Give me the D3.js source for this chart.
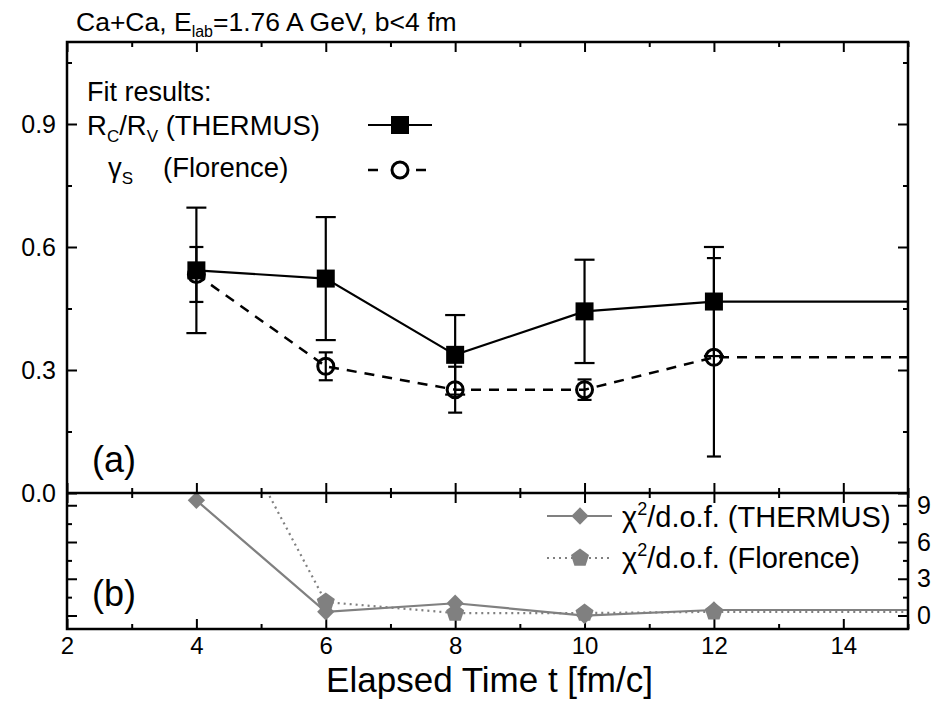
<!DOCTYPE html>
<html>
<head>
<meta charset="utf-8">
<script src="https://cdn.jsdelivr.net/npm/d3@7"></script>
<style>
  html, body { margin: 0; padding: 0; background: #fff; }
  svg { display: block; font-family: "Liberation Sans", Arial, sans-serif; }
</style>
</head>
<body>
<svg id="chart" width="951" height="701"></svg>
<script>
// Elapsed times of the fits
const times = [4, 6, 8, 10, 12];

// Panel (a): fit parameters
const rcRvThermus = [0.543, 0.523, 0.337, 0.443, 0.467];
const rcRvThermusErr = [0.153, 0.150, 0.097, 0.126, 0.133];
const gammaSFlorence = [0.533, 0.309, 0.252, 0.252, 0.331];
const gammaSFlorenceErr = [0.067, 0.034, 0.056, 0.025, 0.242];

// Panel (b): fit quality
const chi2Thermus = [9.4, 0.3, 1.0, 0.0, 0.45];
const chi2Florence = [21.0, 1.1, 0.2, 0.2, 0.3];

// Axis ticks
const xMajorTicks = [2, 4, 6, 8, 10, 12, 14];
const xMinorTicks = [3, 5, 7, 9, 11, 13, 15];
const yMajorTicksA = [0.0, 0.3, 0.6, 0.9];
const yMinorTicksA = [0.15, 0.45, 0.75, 1.05];
const yMajorTicksB = [0, 3, 6, 9];
const yMinorTicksB = [1.5, 4.5, 7.5];

const svg = d3.select("#chart");

const left = 67, right = 908, topA = 42, midY = 493, botB = 629;
const x = d3.scaleLinear().domain([2, 15]).range([left, right]);
const yA = d3.scaleLinear().domain([0, 1.1]).range([midY, topA]);
const yB = d3.scaleLinear().domain([-1.1, 10]).range([botB, midY]);

const GRAY = "#808080";
const MAJ = 10, MIN = 5;

// Clip regions for the two panels
const defs = svg.append("defs");
defs.append("clipPath").attr("id", "clipA").append("rect")
  .attr("x", left).attr("y", topA).attr("width", right - left).attr("height", midY - topA);
defs.append("clipPath").attr("id", "clipB").append("rect")
  .attr("x", left).attr("y", midY).attr("width", right - left).attr("height", botB - midY);

// ---- axes helper: draws ticks only (inward), optional labels
function ticksOnly(axisGen, translate, values, size, labels) {
  const g = svg.append("g").attr("transform", translate)
    .call(axisGen.tickValues(values).tickSize(size).tickSizeOuter(0));
  g.select(".domain").remove();
  g.selectAll(".tick line").attr("stroke", "#000").attr("stroke-width", 2);
  if (!labels) g.selectAll(".tick text").remove();
  return g;
}

// Top edge of panel (a)
ticksOnly(d3.axisBottom(x), `translate(0,${topA})`, xMajorTicks, MAJ, false);
ticksOnly(d3.axisBottom(x), `translate(0,${topA})`, xMinorTicks, MIN, false);
// Shared middle edge: ticks up into (a) and down into (b)
ticksOnly(d3.axisTop(x), `translate(0,${midY})`, xMajorTicks, MAJ, false);
ticksOnly(d3.axisTop(x), `translate(0,${midY})`, xMinorTicks, MIN, false);
ticksOnly(d3.axisBottom(x), `translate(0,${midY})`, xMajorTicks, MAJ, false);
ticksOnly(d3.axisBottom(x), `translate(0,${midY})`, xMinorTicks, MIN, false);
// Bottom edge of panel (b) with labels
const xLab = svg.append("g").attr("transform", `translate(0,${botB})`)
  .call(d3.axisBottom(x).tickValues(xMajorTicks).tickSize(0).tickPadding(8));
xLab.select(".domain").remove();
xLab.selectAll(".tick text").attr("font-size", 24).attr("fill", "#000")
  .attr("font-family", "Liberation Sans, Arial, sans-serif");
ticksOnly(d3.axisTop(x), `translate(0,${botB})`, xMajorTicks, MAJ, false);
ticksOnly(d3.axisTop(x), `translate(0,${botB})`, xMinorTicks, MIN, false);

// Panel (a) y axes
const yLabA = svg.append("g").attr("transform", `translate(${left},0)`)
  .call(d3.axisLeft(yA).tickValues(yMajorTicksA).tickSize(0).tickPadding(11).tickFormat(d3.format(".1f")));
yLabA.select(".domain").remove();
yLabA.selectAll(".tick text").attr("font-size", 25).attr("fill", "#000")
  .attr("font-family", "Liberation Sans, Arial, sans-serif");
ticksOnly(d3.axisRight(yA), `translate(${left},0)`, yMajorTicksA, MAJ, false);
ticksOnly(d3.axisRight(yA), `translate(${left},0)`, yMinorTicksA, MIN, false);
ticksOnly(d3.axisLeft(yA), `translate(${right},0)`, yMajorTicksA, MAJ, false);
ticksOnly(d3.axisLeft(yA), `translate(${right},0)`, yMinorTicksA, MIN, false);

// Panel (b) y axes (labels on the right)
ticksOnly(d3.axisRight(yB), `translate(${left},0)`, yMajorTicksB, MAJ, false);
ticksOnly(d3.axisRight(yB), `translate(${left},0)`, yMinorTicksB, MIN, false);
ticksOnly(d3.axisLeft(yB), `translate(${right},0)`, yMajorTicksB, MAJ, false);
ticksOnly(d3.axisLeft(yB), `translate(${right},0)`, yMinorTicksB, MIN, false);
const yLabB = svg.append("g").attr("transform", `translate(${right},0)`)
  .call(d3.axisRight(yB).tickValues(yMajorTicksB).tickSize(0).tickPadding(9));
yLabB.select(".domain").remove();
yLabB.selectAll(".tick text").attr("font-size", 25).attr("fill", "#000")
  .attr("font-family", "Liberation Sans, Arial, sans-serif");

// ---- Panel (a) data
const gA = svg.append("g").attr("clip-path", "url(#clipA)");
const lineA = d3.line().x(d => x(d[0])).y(d => yA(d[1]));
const xEnd = x.domain()[1];

// series points, continued flat to the right edge of the frame
function series(vals) {
  const pts = times.map((t, i) => [t, vals[i]]);
  pts.push([xEnd, vals[vals.length - 1]]);
  return pts;
}

gA.append("path").datum(series(rcRvThermus))
  .attr("d", lineA).attr("fill", "none").attr("stroke", "#000").attr("stroke-width", 2.2);
gA.append("path").datum(series(gammaSFlorence))
  .attr("d", lineA).attr("fill", "none").attr("stroke", "#000").attr("stroke-width", 2.5)
  .attr("stroke-dasharray", "10,8");

function errorBars(g, vals, errs, capW) {
  times.forEach((t, i) => {
    const cx = x(t), y1 = yA(vals[i] + errs[i]), y0 = yA(vals[i] - errs[i]);
    g.append("line").attr("x1", cx).attr("x2", cx).attr("y1", y1).attr("y2", y0)
      .attr("stroke", "#000").attr("stroke-width", 2.2);
    [y1, y0].forEach(yy => g.append("line")
      .attr("x1", cx - capW / 2).attr("x2", cx + capW / 2).attr("y1", yy).attr("y2", yy)
      .attr("stroke", "#000").attr("stroke-width", 2.2));
  });
}
errorBars(gA, rcRvThermus, rcRvThermusErr, 20);
errorBars(gA, gammaSFlorence, gammaSFlorenceErr, 14);

gA.selectAll("rect.sq").data(times).join("rect")
  .attr("x", (d) => x(d) - 9).attr("y", (d, i) => yA(rcRvThermus[i]) - 9)
  .attr("width", 18).attr("height", 18).attr("fill", "#000");
gA.selectAll("circle.ci").data(times).join("circle")
  .attr("cx", d => x(d)).attr("cy", (d, i) => yA(gammaSFlorence[i]))
  .attr("r", 8).attr("fill", "none").attr("stroke", "#000").attr("stroke-width", 3);

// ---- Panel (b) data
const gB = svg.append("g").attr("clip-path", "url(#clipB)");
const lineB = d3.line().x(d => x(d[0])).y(d => yB(d[1]));
gB.append("path").datum(series(chi2Thermus))
  .attr("d", lineB).attr("fill", "none").attr("stroke", GRAY).attr("stroke-width", 2.2);
gB.append("path").datum(series(chi2Florence))
  .attr("d", lineB).attr("fill", "none").attr("stroke", GRAY).attr("stroke-width", 2.2)
  .attr("stroke-dasharray", "2,4");

const diamond = d3.symbol().type(d3.symbolSquare).size(150)();
function pentagonPath(r) {
  const p = d3.path();
  for (let k = 0; k < 5; k++) {
    const a = -Math.PI / 2 + k * 2 * Math.PI / 5;
    const px = r * Math.cos(a), py = r * Math.sin(a);
    if (k === 0) p.moveTo(px, py); else p.lineTo(px, py);
  }
  p.closePath();
  return p.toString();
}
const pentagon = pentagonPath(9.5);

gB.selectAll("path.pent").data(times).join("path")
  .attr("d", pentagon).attr("fill", GRAY)
  .attr("transform", (d, i) => `translate(${x(d)},${yB(chi2Florence[i])})`);
gB.selectAll("path.dia").data(times).join("path")
  .attr("d", diamond).attr("fill", GRAY)
  .attr("transform", (d, i) => `translate(${x(d)},${yB(chi2Thermus[i])}) rotate(45)`);

// ---- Frames
svg.append("rect").attr("x", left).attr("y", topA).attr("width", right - left).attr("height", botB - topA)
  .attr("fill", "none").attr("stroke", "#000").attr("stroke-width", 2.5);
svg.append("line").attr("x1", left).attr("x2", right).attr("y1", midY).attr("y2", midY)
  .attr("stroke", "#000").attr("stroke-width", 2.5);

// ---- Texts
const title = svg.append("text").attr("x", 76).attr("y", 31).attr("font-size", 26.5);
title.append("tspan").text("Ca+Ca, E");
title.append("tspan").attr("dy", 6).attr("font-size", 16).text("lab");
title.append("tspan").attr("dy", -6).text("=1.76 A GeV, b<4 fm");

svg.append("text").attr("x", 87).attr("y", 101).attr("font-size", 27).text("Fit results:");
const l1 = svg.append("text").attr("x", 87).attr("y", 135).attr("font-size", 27.5);
l1.append("tspan").text("R");
l1.append("tspan").attr("dy", 7).attr("font-size", 17).text("C");
l1.append("tspan").attr("dy", -7).text("/R");
l1.append("tspan").attr("dy", 7).attr("font-size", 17).text("V");
l1.append("tspan").attr("dy", -7).text(" (THERMUS)");
const l2 = svg.append("text").attr("x", 108).attr("y", 177).attr("font-size", 27.5);
l2.append("tspan").text("γ");
l2.append("tspan").attr("dy", 7).attr("font-size", 17).text("S");
svg.append("text").attr("x", 163).attr("y", 177).attr("font-size", 27.5).text("(Florence)");

// legend symbols (a)
svg.append("line").attr("x1", 368).attr("x2", 432).attr("y1", 125).attr("y2", 125)
  .attr("stroke", "#000").attr("stroke-width", 2.2);
svg.append("rect").attr("x", 391).attr("y", 116).attr("width", 18).attr("height", 18).attr("fill", "#000");
svg.append("line").attr("x1", 368).attr("x2", 432).attr("y1", 170).attr("y2", 170)
  .attr("stroke", "#000").attr("stroke-width", 2.5).attr("stroke-dasharray", "10,14");
svg.append("circle").attr("cx", 400).attr("cy", 170).attr("r", 8)
  .attr("fill", "#fff").attr("stroke", "#000").attr("stroke-width", 3);

// legend (b)
svg.append("line").attr("x1", 547).attr("x2", 612).attr("y1", 516).attr("y2", 516)
  .attr("stroke", GRAY).attr("stroke-width", 2.2);
svg.append("path").attr("d", diamond).attr("fill", GRAY).attr("transform", "translate(580,516) rotate(45)");
svg.append("line").attr("x1", 547).attr("x2", 612).attr("y1", 558).attr("y2", 558)
  .attr("stroke", GRAY).attr("stroke-width", 2.2).attr("stroke-dasharray", "2,4");
svg.append("path").attr("d", pentagon).attr("fill", GRAY).attr("transform", "translate(580,558)");

function chiLabel(yy, name) {
  const t = svg.append("text").attr("x", 622).attr("y", yy).attr("font-size", 29);
  t.append("tspan").text("χ");
  t.append("tspan").attr("dy", -12).attr("font-size", 18).text("2");
  t.append("tspan").attr("dy", 12).text("/d.o.f. (" + name + ")");
}
chiLabel(527, "THERMUS");
chiLabel(568, "Florence");

svg.append("text").attr("x", 92).attr("y", 472).attr("font-size", 36).text("(a)");
svg.append("text").attr("x", 92).attr("y", 606).attr("font-size", 36).text("(b)");

svg.append("text").attr("x", (left + right) / 2 + 2).attr("y", 692).attr("text-anchor", "middle")
  .attr("font-size", 35).text("Elapsed Time t [fm/c]");
</script>
</body>
</html>
